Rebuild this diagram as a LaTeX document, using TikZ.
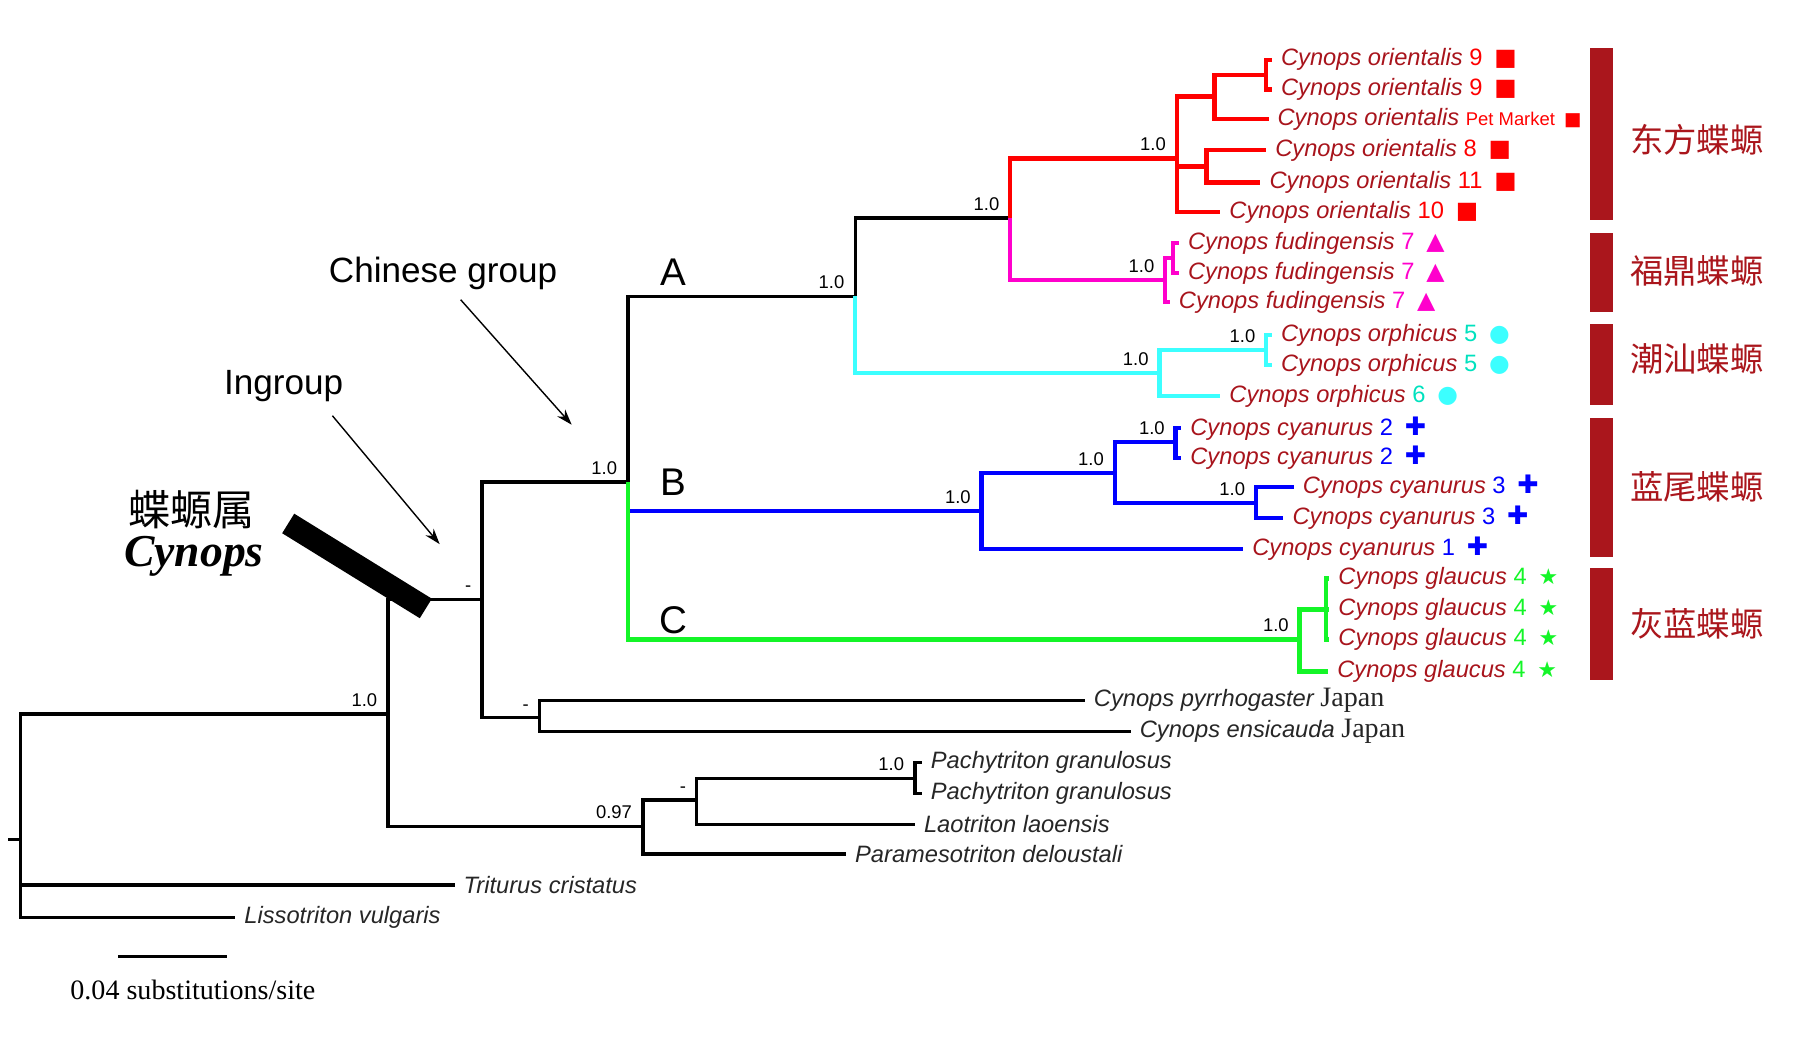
\documentclass[tikz,border=0pt]{standalone}
\usepackage{fontspec}
\setmainfont{Liberation Sans}
\newfontfamily\tnr{Liberation Serif}
\newfontfamily\cjk{Noto Sans CJK SC}
\newfontfamily\symf{DejaVu Sans}
\usetikzlibrary{arrows.meta}
\definecolor{taxred}{RGB}{168,20,28}
\definecolor{barred}{RGB}{170,22,28}
\definecolor{cred}{RGB}{255,0,0}
\definecolor{cmag}{RGB}{255,0,204}
\definecolor{ccyan}{RGB}{60,255,255}
\definecolor{cteal}{RGB}{0,225,190}
\definecolor{cblue}{RGB}{0,0,255}
\definecolor{cgreen}{RGB}{20,245,40}
\newcommand{\mk}[3]{{\upshape\color{#1}#2\enspace{\symf #3}}}
\newcommand{\gstar}{{\fontsize{12.5}{14}\selectfont ★}}
\newcommand{\bcross}{{\bfseries\fontsize{14.5}{16}\selectfont ✚}}
\tikzset{
  br/.style={line width=1.9pt},
  cbr/.style={line width=2.4pt},
  taxon/.style={anchor=west, inner xsep=5pt, inner ysep=1pt, text=taxred,
    font=\fontsize{13.5}{16}\selectfont\itshape},
  outg/.style={taxon, text=black!85},
  supp/.style={anchor=south east, inner sep=1pt, xshift=-5pt, yshift=3pt,
    font=\fontsize{10.5}{12}\selectfont},
  clade/.style={font=\fontsize{22}{24}\selectfont},
  grp/.style={text=barred, font=\cjk\fontsize{19}{21}\selectfont},
  pointer/.style={-{Stealth[length=9pt,width=6pt]}, line width=0.8pt},
}
\begin{document}
\begin{tikzpicture}[x=0.023cm,y=-0.023cm]
\useasboundingbox (0,0) rectangle (1568,904);
% inner nodes
\coordinate (stub) at (7,731);
\coordinate (r) at (18,731);
\coordinate (cy) at (338,622);
\coordinate (ing) at (420,522);
\coordinate (og) at (560,720);
\coordinate (og2) at (607,697);
\coordinate (pch) at (797,678);
\coordinate (jp) at (470,625);
\coordinate (chn) at (547,420);
\coordinate (cA) at (745,258);
\coordinate (cB) at (855,445);
\coordinate (cC) at (1132,557);
\coordinate (rm) at (880,190);
\coordinate (cyn) at (1010,325);
\coordinate (red) at (1025,138);
\coordinate (mag) at (1015,244);
\coordinate (r1) at (1058,84);
\coordinate (r11) at (1103,65);
\coordinate (r2) at (1051,145);
\coordinate (mb) at (1022,225);
\coordinate (cyb) at (1103,305);
\coordinate (b1) at (971,412);
\coordinate (b11) at (1024,385);
\coordinate (b12) at (1094,438);
\coordinate (g1) at (1155,531);
% taxa
\node[taxon] (o9a) at (1108,52) {Cynops orientalis \mk{cred}{9}{■}};
\node[taxon] (o9b) at (1108,78) {Cynops orientalis \mk{cred}{9}{■}};
\node[taxon] (pet) at (1105,104) {Cynops orientalis \mk{cred}{\fontsize{10.5}{12}\selectfont Pet Market}{■}};
\node[taxon] (o8) at (1103,131) {Cynops orientalis \mk{cred}{8}{■}};
\node[taxon] (o11) at (1098,159) {Cynops orientalis \mk{cred}{11}{■}};
\node[taxon] (o10) at (1063,185) {Cynops orientalis \mk{cred}{10}{■}};
\node[taxon] (f1) at (1027,212) {Cynops fudingensis \mk{cmag}{7}{▲}};
\node[taxon] (f2) at (1027,238) {Cynops fudingensis \mk{cmag}{7}{▲}};
\node[taxon] (f3) at (1019,263) {Cynops fudingensis \mk{cmag}{7}{▲}};
\node[taxon] (op1) at (1108,292) {Cynops orphicus \mk{cteal}{5}{\color{ccyan}●}};
\node[taxon] (op2) at (1108,318) {Cynops orphicus \mk{cteal}{5}{\color{ccyan}●}};
\node[taxon] (op3) at (1063,345) {Cynops orphicus \mk{cteal}{6}{\color{ccyan}●}};
\node[taxon] (cy1) at (1029,373) {Cynops cyanurus \mk{cblue}{2}{\bcross}};
\node[taxon] (cy2) at (1029,399) {Cynops cyanurus \mk{cblue}{2}{\bcross}};
\node[taxon] (cy3) at (1127,424) {Cynops cyanurus \mk{cblue}{3}{\bcross}};
\node[taxon] (cy4) at (1118,451) {Cynops cyanurus \mk{cblue}{3}{\bcross}};
\node[taxon] (cy5) at (1083,478) {Cynops cyanurus \mk{cblue}{1}{\bcross}};
\node[taxon] (ga) at (1158,504) {Cynops glaucus \mk{cgreen}{4}{\gstar}};
\node[taxon] (gb) at (1158,531) {Cynops glaucus \mk{cgreen}{4}{\gstar}};
\node[taxon] (gc) at (1158,557) {Cynops glaucus \mk{cgreen}{4}{\gstar}};
\node[taxon] (gd) at (1157,585) {Cynops glaucus \mk{cgreen}{4}{\gstar}};
\node[outg] (pyr) at (945,610) {Cynops pyrrhogaster {\upshape\tnr\fontsize{16}{18}\selectfont Japan}};
\node[outg] (ens) at (985,637) {Cynops ensicauda {\upshape\tnr\fontsize{16}{18}\selectfont Japan}};
\node[outg] (pa1) at (803,664) {Pachytriton granulosus};
\node[outg] (pa2) at (803,691) {Pachytriton granulosus};
\node[outg] (lao) at (797,718) {Laotriton laoensis};
\node[outg] (par) at (737,744) {Paramesotriton deloustali};
\node[outg] (tri) at (396,771) {Triturus cristatus};
\node[outg] (lis) at (205,799) {Lissotriton vulgaris};
% black branches
\draw[br] (stub) -- (r);
\draw[br] (r) |- (cy);
\draw[br] (r) |- (tri.west);
\draw[br] (r) |- (lis.west);
\draw[br] (cy) |- (ing);
\draw[br] (cy) |- (og);
\draw[br] (ing) |- (chn);
\draw[br] (ing) |- (jp);
\draw[br] (jp) |- (pyr.west);
\draw[br] (jp) |- (ens.west);
\draw[br] (og) |- (og2);
\draw[br] (og) |- (par.west);
\draw[br] (og2) |- (pch);
\draw[br] (og2) |- (lao.west);
\draw[br] (pch) |- (pa1.west);
\draw[br] (pch) |- (pa2.west);
\draw[br] (chn) |- (cA);
\draw[br] (cA) |- (rm);
% clade A
\draw[cbr,cred] (rm) |- (red);
\draw[cbr,cred] (red) |- (r1);
\draw[cbr,cred] (red) |- (r2);
\draw[cbr,cred] (red) |- (o10.west);
\draw[cbr,cred] (r1) |- (r11);
\draw[cbr,cred] (r1) |- (pet.west);
\draw[cbr,cred] (r11) |- (o9a.west);
\draw[cbr,cred] (r11) |- (o9b.west);
\draw[cbr,cred] (r2) |- (o8.west);
\draw[cbr,cred] (r2) |- (o11.west);
\draw[cbr,cmag] (rm) |- (mag);
\draw[cbr,cmag] (mag) |- (mb);
\draw[cbr,cmag] (mag) |- (f3.west);
\draw[cbr,cmag] (mb) |- (f1.west);
\draw[cbr,cmag] (mb) |- (f2.west);
\draw[cbr,ccyan] (cA) |- (cyn);
\draw[cbr,ccyan] (cyn) |- (cyb);
\draw[cbr,ccyan] (cyn) |- (op3.west);
\draw[cbr,ccyan] (cyb) |- (op1.west);
\draw[cbr,ccyan] (cyb) |- (op2.west);
% clade B
\draw[cbr,cblue] (chn |- cB) -- (cB);
\draw[cbr,cblue] (cB) |- (b1);
\draw[cbr,cblue] (cB) |- (cy5.west);
\draw[cbr,cblue] (b1) |- (b11);
\draw[cbr,cblue] (b1) |- (b12);
\draw[cbr,cblue] (b11) |- (cy1.west);
\draw[cbr,cblue] (b11) |- (cy2.west);
\draw[cbr,cblue] (b12) |- (cy3.west);
\draw[cbr,cblue] (b12) |- (cy4.west);
% clade C
\draw[cbr,cgreen] (chn) |- (cC);
\draw[cbr,cgreen] (cC) |- (g1);
\draw[cbr,cgreen] (cC) |- (gd.west);
\draw[cbr,cgreen] (g1) |- (ga.west);
\draw[cbr,cgreen] (g1) |- (gb.west);
\draw[cbr,cgreen] (g1) |- (gc.west);
% support values
\node[supp] at (cy) {1.0};
\node[supp] at (ing) {-};
\node[supp] at (chn) {1.0};
\node[supp] at (jp) {-};
\node[supp] at (cA) {1.0};
\node[supp] at (rm) {1.0};
\node[supp] at (red) {1.0};
\node[supp] at (mag) {1.0};
\node[supp] at (cyb) {1.0};
\node[supp] at (cyn) {1.0};
\node[supp] at (b11) {1.0};
\node[supp] at (b1) {1.0};
\node[supp] at (cB) {1.0};
\node[supp] at (b12) {1.0};
\node[supp] at (cC) {1.0};
\node[supp] at (og) {0.97};
\node[supp] at (og2) {-};
\node[supp] at (pch) {1.0};
% clade letters and groups
\node[clade] (labA) at (587,237) {A};
\node[clade] (labB) at (587,420) {B};
\node[clade] (labC) at (587,540) {C};
\node[font=\fontsize{20}{22}\selectfont] (chgrp) at (386,238) {Chinese group};
\node[font=\fontsize{20}{22}\selectfont] (ingrp) at (247,336) {Ingroup};
\coordinate (chtip) at (498,370);
\coordinate (ingtip) at (383,474);
\draw[pointer,shorten <=3pt] ([xshift=8pt]chgrp.south) -- (chtip);
\draw[pointer,shorten <=6pt] ([xshift=24pt]ingrp.south) -- (ingtip);
% genus mark
\node[fill=black, minimum width=3.24cm, minimum height=0.46cm, inner sep=0pt, rotate=-31.7] (cbar) at (311,493) {};
\node[inner sep=0pt, font=\cjk\fontsize{24}{26}\selectfont] (genzh) at (167,444) {蝶螈属};
\node[inner sep=0pt, font=\tnr\bfseries\itshape\fontsize{26}{28}\selectfont] (genla) at (169,485) {Cynops};
% species bars
\fill[barred] (1385,42) rectangle (1405,192);
\fill[barred] (1385,203) rectangle (1405,272);
\fill[barred] (1385,282) rectangle (1405,353);
\fill[barred] (1385,364) rectangle (1405,485);
\fill[barred] (1385,495) rectangle (1405,592);
\node[grp] (sp1) at (1478,122) {东方蝶螈};
\node[grp] (sp2) at (1478,236) {福鼎蝶螈};
\node[grp] (sp3) at (1478,313) {潮汕蝶螈};
\node[grp] (sp4) at (1478,424) {蓝尾蝶螈};
\node[grp] (sp5) at (1478,543) {灰蓝蝶螈};
% scale
\coordinate (sb1) at (103,833);
\coordinate (sb2) at (198,833);
\draw[br] (sb1) -- (sb2);
\node[font=\tnr\fontsize{16}{18}\selectfont] (sbl) at (168,862) {0.04 substitutions/site};
\end{tikzpicture}
\end{document}
